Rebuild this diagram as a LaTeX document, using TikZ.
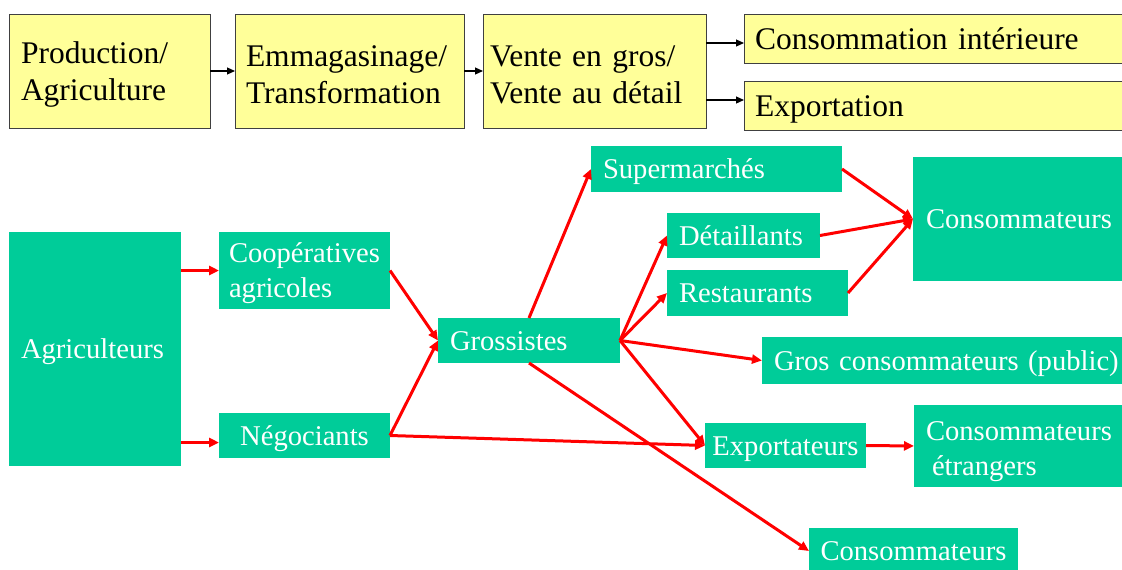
\documentclass[tikz,border=0pt]{standalone}
\usepackage{fontspec}
\setmainfont{Liberation Serif}[WordSpace=0.75]
\usetikzlibrary{arrows.meta,calc}
\definecolor{ylw}{HTML}{FFFF99}
\definecolor{grn}{HTML}{00CC99}
\definecolor{brd}{HTML}{404040}
\definecolor{redc}{HTML}{FF0000}
\begin{document}
\begin{tikzpicture}[x=1pt,y=-1pt,
  ybox/.style={draw=brd, line width=1pt, fill=ylw, anchor=north west, outer sep=0pt, inner ysep=0pt, align=left, font=\fontsize{31.5}{37}\selectfont},
  gbox/.style={fill=grn, text=white, anchor=north west, outer sep=0pt, inner ysep=0pt, align=left, font=\fontsize{28.6}{35}\selectfont},
  gone/.style={text height=19pt, text depth=0pt},
  yone/.style={text height=21pt, text depth=0pt},
  blk/.style={draw=black, line width=1.2pt, -{Triangle[length=8pt,width=7pt]}},
  rd/.style={draw=redc, line width=3pt, -{Triangle[length=10pt,width=9pt]}}]
\useasboundingbox (0,0) rectangle (1122,570);
\clip (0,0) rectangle (1122,570);
% top row
\node[ybox, inner xsep=12pt, minimum width=201pt, minimum height=114pt, text width=177pt] (p) at (9,14) {\rule{0pt}{28pt}Production/\\Agriculture};
\node[ybox, inner xsep=11pt, minimum width=229pt, minimum height=114pt, text width=207pt] (e) at (235,14) {\rule{0pt}{28pt}Emmagasinage/\\Transformation};
\node[ybox, inner xsep=7pt, minimum width=223pt, minimum height=114pt, text width=209pt] (v) at (483,14) {\rule{0pt}{28pt}Vente en gros/\\Vente au détail};
\node[ybox, yone, inner xsep=11pt, minimum width=400pt, minimum height=49pt, text width=378pt] (ci) at (744,14) {Consommation intérieure};
\node[ybox, yone, inner xsep=11pt, minimum width=400pt, minimum height=49pt, text width=378pt] (ex) at (744,81) {Exportation};
% green nodes
\node[gbox, gone, inner xsep=12pt, minimum width=172pt, minimum height=234pt, text width=148pt] (agri) at (9,232) {Agriculteurs};
\node[gbox, inner xsep=10pt, minimum width=171pt, minimum height=77pt, text width=151pt] (coop) at (219,232) {\rule{0pt}{26pt}Coopératives\\agricoles};
\node[gbox, gone, inner xsep=10pt, minimum width=171pt, minimum height=45pt, text width=151pt, align=center] (neg) at (219,413) {Négociants};
\node[gbox, gone, inner xsep=12pt, minimum width=182pt, minimum height=45pt, text width=158pt] (gross) at (438,318) {Grossistes};
\node[gbox, gone, inner xsep=12pt, minimum width=251pt, minimum height=46pt, text width=227pt] (sup) at (591,146) {Supermarchés};
\node[gbox, gone, inner xsep=12pt, minimum width=153pt, minimum height=45pt, text width=129pt] (det) at (667,213) {Détaillants};
\node[gbox, gone, inner xsep=12pt, minimum width=181pt, minimum height=46pt, text width=157pt] (rest) at (667,270) {Restaurants};
\node[gbox, gone, inner xsep=13pt, minimum width=220pt, minimum height=124pt, text width=194pt] (consR) at (913,157) {Consommateurs};
\node[gbox, gone, inner xsep=12pt, minimum width=370pt, minimum height=47pt, text width=346pt] (gc) at (762,337) {Gros consommateurs (public)};
\node[gbox, gone, inner xsep=6pt, minimum width=161pt, minimum height=45pt, text width=149pt, align=center] (exp) at (705,423) {Exportateurs};
\node[gbox, inner xsep=12pt, minimum width=220pt, minimum height=82pt, text width=196pt] (consE) at (914,405) {\rule{0pt}{31pt}Consommateurs\\\hspace*{6pt}étrangers};
\node[gbox, gone, inner xsep=8pt, minimum width=209pt, minimum height=46pt, text width=193pt, align=center] (consB) at (809,528) {Consommateurs};
% black arrows
\draw[blk] (p.east) -- (e.west);
\draw[blk] (e.east) -- (v.west);
\draw[blk] ($(v.east |- ci.west)+(0,4.5)$) -- ($(ci.west)+(0,4.5)$);
\draw[blk] ($(v.east |- ex.west)+(0,-5.5)$) -- ($(ex.west)+(0,-5.5)$);
% red arrows
\draw[rd] (agri.east |- coop.west) -- (coop.west);
\draw[rd] ($(agri.east |- neg.west)+(0,7)$) -- ($(neg.west)+(0,7)$);
\draw[rd] (coop.east) -- (gross.west);
\draw[rd] (neg.east) -- (gross.west);
\draw[rd] (neg.east) -- (exp.west);
\draw[rd] (gross.north) -- (sup.west);
\draw[rd] (gross.east) -- (det.west);
\draw[rd] (gross.east) -- (rest.west);
\draw[rd] (gross.east) -- (gc.west);
\draw[rd] (gross.east) -- (exp.west);
\draw[rd] (gross.south) -- (consB.west);
\draw[rd] (sup.east) -- (consR.west);
\draw[rd] (det.east) -- (consR.west);
\draw[rd] (rest.east) -- (consR.west);
\draw[rd] (exp.east) -- (consE.west);
\end{tikzpicture}
\end{document}
